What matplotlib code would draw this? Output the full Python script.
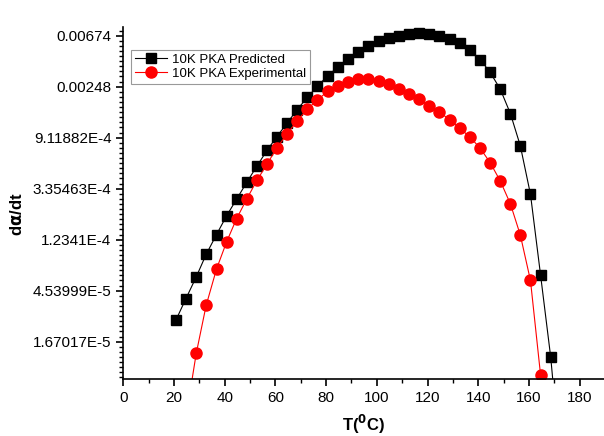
import numpy as np
import matplotlib
matplotlib.use("Agg")
import matplotlib.pyplot as plt
from matplotlib.ticker import FixedLocator, FixedFormatter, NullFormatter

plt.rcParams['font.family'] = ['Liberation Sans', 'DejaVu Sans']

# temperature (C) and ln(da/dt) for the 10K PKA runs
t_pred = [20.8, 24.7, 28.8, 32.7, 36.8, 40.8, 44.8, 48.8, 52.7, 56.7, 60.6, 64.7,
          68.6, 72.6, 76.6, 80.7, 84.8, 88.8, 92.7, 96.6, 100.7, 104.7, 108.6,
          112.7, 116.6, 120.7, 124.7, 128.8, 132.8, 136.8, 140.8, 144.7, 148.7,
          152.7, 156.6, 160.6, 164.6, 168.6, 172.6]
ln_pred = [-10.575, -10.16, -9.73, -9.29, -8.90, -8.53, -8.20, -7.87, -7.56, -7.25,
           -6.98, -6.71, -6.45, -6.21, -5.99, -5.785, -5.61, -5.456, -5.33, -5.20,
           -5.11, -5.05, -5.00, -4.97, -4.955, -4.97, -5.006, -5.06, -5.14, -5.29,
           -5.47, -5.72, -6.05, -6.53, -7.16, -8.11, -9.70, -11.31, -13.5]

t_exp = [24.7, 28.8, 32.7, 36.8, 40.8, 44.7, 48.8, 52.7, 56.7, 60.6, 64.7, 68.6,
         72.6, 76.6, 80.7, 84.8, 88.8, 92.7, 96.6, 100.7, 104.7, 108.6, 112.7,
         116.6, 120.7, 124.7, 128.8, 132.8, 136.8, 140.8, 144.7, 148.7, 152.7,
         156.6, 160.6, 164.6]
ln_exp = [-12.5, -11.23, -10.29, -9.575, -9.04, -8.59, -8.196, -7.84, -7.52, -7.20,
          -6.92, -6.67, -6.44, -6.26, -6.09, -5.98, -5.90, -5.85, -5.85, -5.88,
          -5.95, -6.04, -6.14, -6.25, -6.37, -6.50, -6.65, -6.82, -6.99, -7.21,
          -7.49, -7.85, -8.30, -8.91, -9.80, -11.66]

ytick_exp = [-11, -10, -9, -8, -7, -6, -5]
ytick_labels = ['1.67017E-5', '4.53999E-5', '1.2341E-4', '3.35463E-4',
                '9.11882E-4', '0.00248', '0.00674']

fig = plt.figure(figsize=(6.04, 4.36), dpi=100)
ax = fig.add_axes([0.204, 0.131, 0.796, 0.806])

ax.plot(t_pred, np.exp(ln_pred), color='black', lw=0.8, marker='s', ms=7,
        mfc='black', mec='black', label='10K PKA Predicted')
ax.plot(t_exp, np.exp(ln_exp), color='red', lw=0.8, marker='o', ms=8,
        mfc='red', mec='red', label='10K PKA Experimental')

ax.set_yscale('log', base=np.e)
ax.set_ylim(np.exp(-11.73), np.exp(-4.84))
ax.set_xlim(0, 189.6)

ax.yaxis.set_major_locator(FixedLocator(np.exp(ytick_exp)))
ax.yaxis.set_major_formatter(FixedFormatter(ytick_labels))
minor = [np.exp(v) for v in np.arange(-11.7, -4.8, 0.1)
         if abs(v - round(v)) > 0.05]
ax.yaxis.set_minor_locator(FixedLocator(minor))
ax.yaxis.set_minor_formatter(NullFormatter())

ax.set_xticks(np.arange(0, 181, 20))
ax.set_xticks(np.arange(10, 190, 20), minor=True)

ax.spines['top'].set_visible(False)
ax.spines['right'].set_visible(False)
for s in ('left', 'bottom'):
    ax.spines[s].set_linewidth(1.2)
ax.tick_params(which='major', direction='out', length=5, width=1.2, labelsize=11)
ax.tick_params(which='minor', direction='out', length=3, width=1.0)

ax.set_ylabel(r'd$\mathbf{\alpha}$/dt', fontsize=12, fontweight='bold')
ax.yaxis.set_label_coords(-0.204, 0.47)
ax.set_xlabel(r'T($\mathbf{^{0}}$C)', fontsize=12, fontweight='bold', labelpad=6)

leg = ax.legend(loc='upper left', bbox_to_anchor=(0.016, 0.937), borderaxespad=0,
                fontsize=9.5, fancybox=False, edgecolor='gray', handlelength=2.4,
                handletextpad=0.4, borderpad=0.3, labelspacing=0.15)
leg.get_frame().set_linewidth(0.8)

fig.savefig('out.png', dpi=100)
